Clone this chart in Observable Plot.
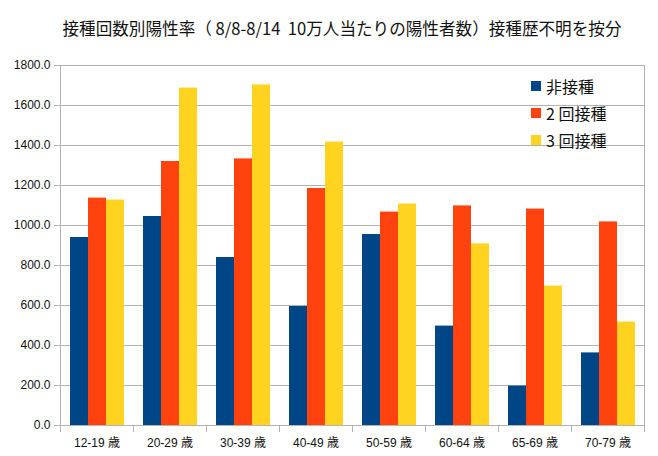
<!DOCTYPE html>
<html>
<head>
<meta charset="utf-8">
<script src="https://cdn.jsdelivr.net/npm/d3@7"></script>
<script src="https://cdn.jsdelivr.net/npm/@observablehq/plot@0.6"></script>
<style>
  html, body { margin: 0; padding: 0; background: #fff; }
  #wrap { position: relative; width: 658px; height: 456px; overflow: hidden; }
  #title { height: 50px; box-sizing: border-box; padding-top: 17px; padding-left: 26px; text-align: center;
           font-family: "Noto Sans CJK JP", sans-serif; font-size: 16.6px; line-height: 22px; color: #111; white-space: nowrap; }
  #legend { position: absolute; left: 531px; top: 73px; font-family: "Noto Sans CJK JP", sans-serif; font-size: 16px; color: #111; }
  .row { display: flex; align-items: center; height: 26.7px; }
  .sw { width: 10px; height: 10px; margin-right: 5px; }
</style>
</head>
<body>
<div id="wrap">
  <div id="title">接種回数別陽性率（ 8/8-8/14&nbsp; 10万人当たりの陽性者数）接種歴不明を按分</div>
  <div id="chart"></div>
  <div id="legend"></div>
</div>
<script>
const ages = ["12-19 歳", "20-29 歳", "30-39 歳", "40-49 歳", "50-59 歳", "60-64 歳", "65-69 歳", "70-79 歳"];
const series = ["非接種", "2回接種", "3回接種"];
const seriesLabels = ["非接種", "2 回接種", "3 回接種"];
const unvaccinated = [940, 1045, 840, 595, 955, 497, 197, 363];
const twoDoses = [1137, 1320, 1333, 1185, 1067, 1098, 1082, 1018];
const threeDoses = [1127, 1687, 1703, 1417, 1107, 908, 697, 517];
const yTicks = [0, 200, 400, 600, 800, 1000, 1200, 1400, 1600, 1800];
const colors = ["#004586", "#ff420e", "#ffd320"];

const values = [unvaccinated, twoDoses, threeDoses];
const data = [];
ages.forEach((age, i) => series.forEach((s, j) => data.push({age, series: s, value: values[j][i]})));

const W = 658, H = 406, MT = 15, MB = 31, ML = 59, MR = 13;
const plotH = H - MT - MB;
const gray = "#b3b3b3";

const chart = Plot.plot({
  width: W, height: H,
  marginTop: MT, marginBottom: MB, marginLeft: ML, marginRight: MR,
  style: {fontFamily: '"Liberation Sans", "Noto Sans CJK JP", sans-serif', fontSize: "12px", color: "#111", background: "#fff"},
  fx: {domain: ages, padding: 0, label: null, axis: null},
  x: {domain: series, paddingInner: 0, paddingOuter: 0.5, axis: null},
  y: {domain: [0, 1800], label: null},
  color: {domain: series, range: colors},
  marks: [
    Plot.ruleY(yTicks, {stroke: gray, strokeWidth: 1}),
    Plot.barY(data, {fx: "age", x: "series", y: "value", fill: "series"}),
    Plot.frame({anchor: "left", stroke: gray, insetTop: plotH, insetBottom: -6}),
    Plot.frame({anchor: "right", stroke: gray, insetTop: plotH, insetBottom: -6}),
    Plot.frame({anchor: "left", stroke: gray, facet: "super"}),
    Plot.frame({anchor: "right", stroke: gray, facet: "super"}),
    Plot.axisY({ticks: yTicks, tickSize: 6, tickPadding: 4, stroke: gray, tickFormat: d => d.toFixed(1), label: null, fontSize: 12}),
    Plot.axisFx({anchor: "bottom", tickSize: 0, tickPadding: 13, label: null, fontSize: 12})
  ]
});
document.getElementById("chart").appendChild(chart);

const legend = document.getElementById("legend");
series.forEach((s, j) => {
  const row = document.createElement("div");
  row.className = "row";
  const sw = document.createElement("div");
  sw.className = "sw";
  sw.style.background = colors[j];
  const t = document.createElement("span");
  t.textContent = seriesLabels[j];
  row.appendChild(sw); row.appendChild(t);
  legend.appendChild(row);
});
</script>
</body>
</html>
